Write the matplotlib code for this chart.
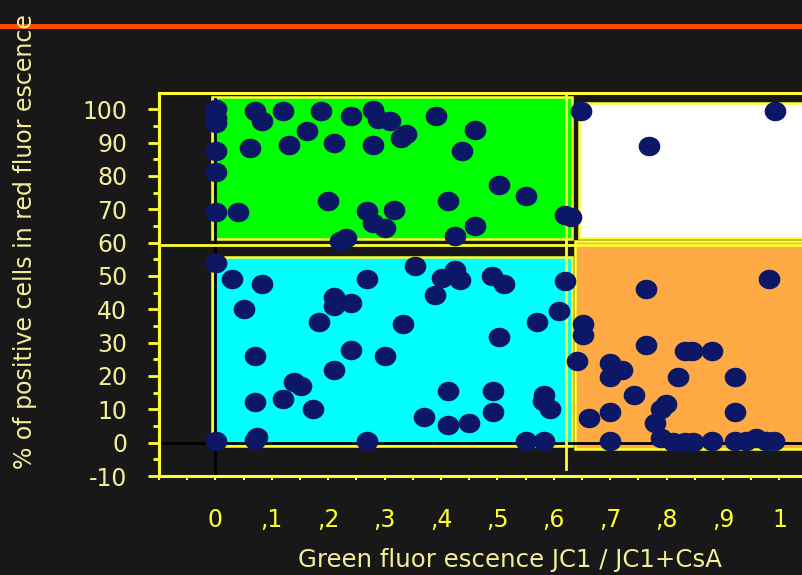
import matplotlib
matplotlib.use("Agg")
import matplotlib.pyplot as plt
import numpy as np
from matplotlib.path import Path
from matplotlib.patches import Rectangle
from matplotlib.lines import Line2D

plt.rcParams["axes.unicode_minus"] = False

# ---- data ----
x_vals = [0.001, 0.001, 0.001, 0.071, 0.083, 0.119, 0.188, 0.163, 0.241, 0.279, 0.288, 0.309,
          0.001, 0.061, 0.131, 0.210, 0.279, 0.001, 0.199, 0.001, 0.040, 0.268, 0.279, 0.300,
          0.316, 0.221, 0.232, 0.391, 0.460, 0.338, 0.329, 0.438, 0.502, 0.550, 0.412, 0.460,
          0.424, 0.619, 0.631, 0.648, 0.768, 0.992,
          0.001, 0.029, 0.083, 0.050, 0.268, 0.210, 0.210, 0.241, 0.183, 0.071, 0.241, 0.300,
          0.210, 0.140, 0.152, 0.071, 0.119, 0.173, 0.001, 0.071, 0.073, 0.268,
          0.354, 0.424, 0.402, 0.434, 0.490, 0.512, 0.390, 0.619, 0.609, 0.571, 0.332, 0.502,
          0.412, 0.492, 0.582, 0.593, 0.580, 0.369, 0.412, 0.449, 0.492, 0.550, 0.582,
          0.651, 0.651, 0.641, 0.764, 0.764, 0.699, 0.721, 0.699, 0.821, 0.833, 0.845, 0.880,
          0.922, 0.743, 0.799, 0.790, 0.699, 0.922, 0.662, 0.780, 0.699, 0.790, 0.811, 0.833,
          0.846, 0.880, 0.922, 0.941, 0.959, 0.976, 0.991, 0.981]
y_vals = [100.0, 97.5, 96.0, 99.4, 96.4, 99.6, 99.6, 93.6, 97.9, 99.9, 97.2, 96.4,
          87.4, 88.4, 89.2, 89.9, 89.2, 81.2, 72.4, 69.2, 69.2, 69.4, 65.9, 64.4,
          69.9, 60.6, 61.4, 97.9, 93.9, 92.6, 91.5, 87.6, 77.2, 73.9, 72.4, 65.1,
          61.9, 68.4, 67.6, 99.6, 89.1, 99.6,
          53.9, 49.2, 47.6, 40.2, 49.2, 43.6, 40.9, 41.9, 36.2, 25.9, 27.7, 25.9,
          21.9, 18.1, 16.9, 12.2, 13.2, 10.0, 0.4, 0.7, 1.8, 0.4,
          53.1, 51.9, 49.4, 48.9, 49.9, 47.6, 44.4, 48.4, 39.4, 36.2, 35.6, 31.6,
          15.6, 15.6, 14.2, 10.0, 12.4, 7.6, 5.2, 5.9, 9.2, 0.4, 0.4,
          35.6, 32.4, 24.4, 29.2, 46.2, 23.9, 21.9, 19.6, 19.6, 27.4, 27.4, 27.4,
          19.6, 14.2, 11.6, 10.0, 9.2, 9.2, 7.4, 5.9, 0.4, 1.4, 0.2, 0.2,
          0.2, 0.4, 0.4, 0.4, 1.4, 0.4, 0.4, 49.2]

x_ticks = [0, 0.1, 0.2, 0.3, 0.4, 0.5, 0.6, 0.7, 0.8, 0.9, 1.0]
x_tick_labels = ["0", ",1", ",2", ",3", ",4", ",5", ",6", ",7", ",8", ",9", "1"]
y_ticks = [-10, 0, 10, 20, 30, 40, 50, 60, 70, 80, 90, 100]
x_label = "Green fluor escence JC1 / JC1+CsA"
y_label = "% of positive cells in red fluor escence"

# region boxes: (x0, x1, y0, y1, colour)
regions = [
    (-0.006, 0.632, 61.0, 103.6, "#00ff00"),
    (-0.006, 0.632, -1.0, 55.8, "#00ffff"),
    (0.645, 1.25, 61.3, 101.8, "#ffffff"),
    (0.637, 1.25, -2.0, 60.6, "#ffaa44"),
]

BG = "#181818"
YEL = "#ffff33"
PALE = "#f2ee9a"
NAVY = "#0c1766"

fig = plt.figure(figsize=(8.02, 5.75), dpi=100, facecolor=BG)
W, H = 802, 575
ax_left = 159 / W
ax_bottom = (H - 476) / H
xmin, xmax = -0.1, 1.1
ymin, ymax = -10, 104.8
ax_w = (xmax - xmin) * 564 / W
ax_h = (ymax - ymin) * 3.334 / H
ax = fig.add_axes([ax_left, ax_bottom, ax_w, ax_h], facecolor=BG)
ax.set_xlim(xmin, xmax)
ax.set_ylim(ymin, ymax)

for x0, x1, y0, y1, c in regions:
    ax.add_patch(Rectangle((x0, y0), x1 - x0, y1 - y0, facecolor=c,
                           edgecolor=YEL, linewidth=1.8, zorder=1))

# guide lines
ax.axhline(0, xmin=0.005, color="black", linewidth=2, zorder=2)
ax.axvline(0, ymax=(103 - ymin) / (ymax - ymin), color="black", linewidth=2, zorder=2)
ax.axhline(59.4, color=YEL, linewidth=2, zorder=2)
ax.axvline(0.622, ymin=(-8 - ymin) / (ymax - ymin), color=YEL, linewidth=2, zorder=2)

# ellipse-shaped marker
circ = Path.unit_circle()
ell = Path(circ.vertices * np.array([1.0, 0.9]), circ.codes)
ax.plot(x_vals, y_vals, linestyle="none", marker=ell, markersize=15.6,
        color=NAVY, markeredgewidth=0, zorder=3, clip_on=False)

for s in ["left", "bottom", "top"]:
    ax.spines[s].set_color(YEL)
    ax.spines[s].set_linewidth(2.2)
ax.spines["right"].set_visible(False)

ax.set_yticks(y_ticks)
ax.set_yticks(np.arange(-5, 105, 10), minor=True)
ax.set_xticks(x_ticks)
ax.set_xticklabels(x_tick_labels)
ax.set_xticks(np.arange(-0.1, 1.05, 0.05), minor=True)
ax.tick_params(axis="y", which="major", direction="out", length=8, width=2,
               color=YEL, labelcolor=PALE, labelsize=17, pad=15)
ax.tick_params(axis="y", which="minor", direction="out", length=4, width=2, color=YEL)
ax.tick_params(axis="x", which="both", direction="out", length=3, width=1.5,
               color=YEL, labelcolor=YEL, labelsize=17, pad=20)

fig.text(510 / W, 1 - 560 / H, x_label, color=PALE, fontsize=17.6,
         ha="center", va="center")
fig.text(25 / W, 1 - 469 / H, y_label, color=PALE, fontsize=17.0,
         rotation=90, ha="center", va="bottom")

fig.add_artist(Line2D([0, 1], [1 - 26 / H, 1 - 26 / H], transform=fig.transFigure,
                      color="#ff4a00", linewidth=3.6))

fig.savefig("out.png", dpi=100, facecolor=BG)
